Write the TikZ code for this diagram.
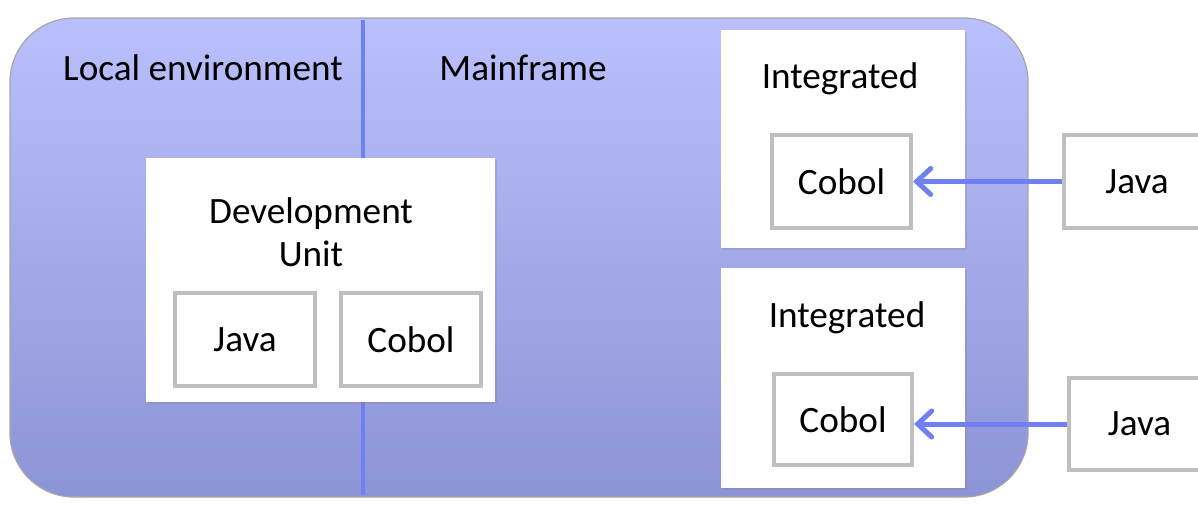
\documentclass[tikz,border=0pt]{standalone}
\usepackage{fontspec}
\setmainfont{Carlito}
\usetikzlibrary{arrows.meta,shadows}

\definecolor{panetop}{RGB}{186,192,252}
\definecolor{panebot}{RGB}{141,148,214}
\definecolor{divblue}{RGB}{112,128,242}
\definecolor{boxgray}{RGB}{191,191,191}

\tikzset{
  every node/.style={font=\fontsize{18.6}{21.5}\selectfont, align=center},
  unit/.style={fill=white, inner sep=0pt,
    drop shadow={opacity=0.25, shadow xshift=0.8pt, shadow yshift=-0.8pt}},
  lang/.style={draw=boxgray, line width=2pt, fill=white, inner sep=0pt},
  call/.style={draw=divblue, line width=2.5pt,
    -{Straight Barb[length=7pt, width=13pt, line cap=round]}}
}

\begin{document}
\begin{tikzpicture}[x=0.5pt, y=-0.5pt]
\useasboundingbox (0,0) rectangle (1198,504);
% pane
\shade[top color=panetop, bottom color=panebot, rounded corners=32pt] (10,18) rectangle (1028,497);
\draw[gray!70, line width=0.6pt, rounded corners=32pt] (10,18) rectangle (1028,497);
\draw[divblue, line width=2pt] (363,20) -- (363,495);
\node (local) at (203,68) {Local environment};
\node (main) at (523,68) {Mainframe};
% development unit
\node[unit, minimum width=174.5pt, minimum height=122pt] (dev) at (320.5,280) {};
\node (devlabel) at (311,232) {Development\\Unit};
\node[lang, minimum width=70pt, minimum height=46.5pt] (devjava) at (245,339.5) {Java};
\node[lang, minimum width=70pt, minimum height=46.5pt] (devcobol) at (411,339.5) {Cobol};
% integrated units
\node[unit, minimum width=122pt, minimum height=109pt] (intA) at (843,139) {};
\node (intAlabel) at (840,79) {Integrated};
\node[lang, minimum width=69.5pt, minimum height=46.5pt] (cobolA) at (841.5,181.5) {Cobol};
\node[unit, minimum width=122pt, minimum height=110pt] (intB) at (843,378) {};
\node (intBlabel) at (847,318) {Integrated};
\node[lang, minimum width=69pt, minimum height=45.5pt] (cobolB) at (843,419.5) {Cobol};
% outside callers
\node[lang, minimum width=73pt, minimum height=46.5pt] (javaA) at (1137,181.5) {Java};
\node[lang, minimum width=70.5pt, minimum height=46pt] (javaB) at (1139.5,424) {Java};
\draw[call] (javaA) -- (cobolA);
\draw[call] (javaB.west) -- (javaB.west -| cobolB.east);
\end{tikzpicture}
\end{document}
